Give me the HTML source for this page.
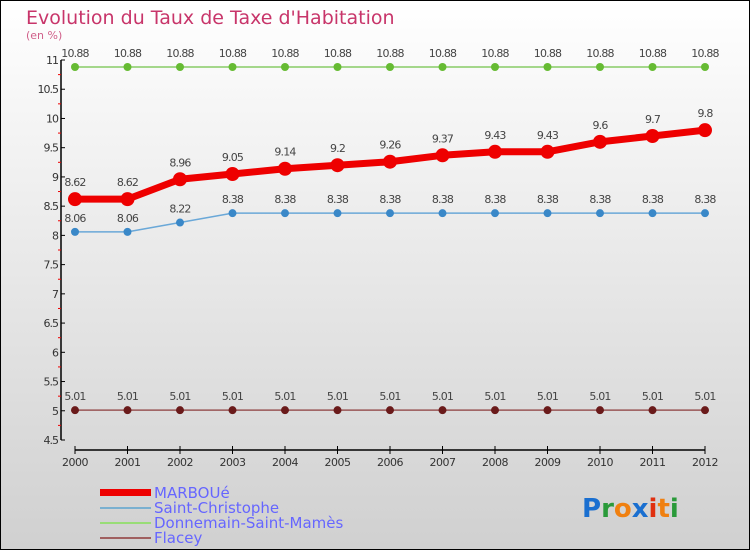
<!DOCTYPE html>
<html><head><meta charset="utf-8"><style>
body{margin:0}
#c{width:750px;height:550px;position:relative;font-family:"DejaVu Sans","Liberation Sans",sans-serif}
</style></head><body>
<div id="c">
<svg id="s" width="750" height="550" xmlns="http://www.w3.org/2000/svg">
<defs><linearGradient id="bg" x1="0" y1="0" x2="0" y2="1"><stop offset="0" stop-color="#ffffff"/><stop offset="1" stop-color="#d0d0d0"/></linearGradient></defs>
<rect x="0.5" y="0.5" width="749" height="549" fill="url(#bg)" stroke="#000"/>
<text x="26" y="24" font-size="19" fill="#c8356a">Evolution du Taux de Taxe d'Habitation</text>
<text x="26" y="39" font-size="11" fill="#d0608a">(en %)</text>
<g id="axes"></g><g id="series"></g>
<g>
<rect x="100" y="489" width="51" height="7" fill="#e00"/>
<text x="154" y="498" font-size="15" fill="#6666ff">MARBOUé</text>
<rect x="100" y="507" width="51" height="2" fill="#7ab0d0"/>
<text x="154" y="513" font-size="15" fill="#6666ff">Saint-Christophe</text>
<rect x="100" y="522" width="51" height="2" fill="#99dd77"/>
<text x="154" y="528" font-size="15" fill="#6666ff">Donnemain-Saint-Mamès</text>
<rect x="100" y="537" width="51" height="2" fill="#a06060"/>
<text x="154" y="543" font-size="15" fill="#6666ff">Flacey</text>
</g>
<g font-size="26" font-weight="bold" font-family="DejaVu Sans,sans-serif">
<text x="582" y="517"><tspan fill="#1a6fd0">P</tspan><tspan fill="#2a9a3a">r</tspan><tspan fill="#f08010">o</tspan><tspan fill="#1a6fd0">x</tspan><tspan fill="#e03010">i</tspan><tspan fill="#f08010">t</tspan><tspan fill="#2a9a3a">i</tspan></text>
</g>
</svg>
</div>
<script>
const years=[2000,2001,2002,2003,2004,2005,2006,2007,2008,2009,2010,2011,2012];
const marboue=[8.62,8.62,8.96,9.05,9.14,9.2,9.26,9.37,9.43,9.43,9.6,9.7,9.8];
const saintChristophe=[8.06,8.06,8.22,8.38,8.38,8.38,8.38,8.38,8.38,8.38,8.38,8.38,8.38];
const donnemain=[10.88,10.88,10.88,10.88,10.88,10.88,10.88,10.88,10.88,10.88,10.88,10.88,10.88];
const flacey=[5.01,5.01,5.01,5.01,5.01,5.01,5.01,5.01,5.01,5.01,5.01,5.01,5.01];
const yTicks=[4.5,5,5.5,6,6.5,7,7.5,8,8.5,9,9.5,10,10.5,11];
const yMin=4.5,yMax=11;
const NS="http://www.w3.org/2000/svg";
function X(i){return 75+i*(630/(years.length-1));}
function Y(v){return 440-(v-yMin)*(380/(yMax-yMin));}
function mk(t,a,p){const e=document.createElementNS(NS,t);for(const k in a)e.setAttribute(k,a[k]);p.appendChild(e);return e;}
const ax=document.getElementById('axes');
const yl=mk('line',{x1:61,y1:Y(yMax),x2:61,y2:Y(yMin),stroke:'#000','stroke-width':1.5},ax);


yTicks.forEach((t,i)=>{
 mk('line',{x1:61,y1:Y(t),x2:65,y2:Y(t),stroke:'#000'},ax);
 if(i<yTicks.length-1)mk('line',{x1:58,y1:Y(t+0.25),x2:61,y2:Y(t+0.25),stroke:'#e00'},ax);
 const tx=mk('text',{x:58,y:Y(t)+4,'font-size':11,fill:'#333','text-anchor':'end','letter-spacing':'-1'},ax);
 tx.textContent=String(t);
 
 
});
const xl=mk('line',{x1:X(0),y1:450,x2:X(years.length-1),y2:450,stroke:'#000','stroke-width':1.5},ax);


years.forEach((y,i)=>{
 mk('line',{x1:X(i),y1:446,x2:X(i),y2:454,stroke:'#000'},ax);
 const tx=mk('text',{x:X(i),y:466,'font-size':11,fill:'#333','text-anchor':'middle','letter-spacing':'-0.5'},ax);
 tx.textContent=y;
 
 
});
const sg=document.getElementById('series');
function draw(name,vals,col,lw,r,dot){
 const g=mk('g',{},sg);
 
 
 mk('polyline',{points:vals.map((v,i)=>X(i)+','+Y(v)).join(' '),fill:'none',stroke:col,'stroke-width':lw,'stroke-linejoin':'round'},g);
 vals.forEach((v,i)=>{
  const c=mk('circle',{cx:X(i),cy:Y(v),r:r,fill:dot},g);
  
  
  const t=mk('text',{x:X(i),y:Y(v)-r-6,'font-size':11,fill:'#444','text-anchor':'middle','letter-spacing':'-0.8'},g);
  t.textContent=String(v);
  
  
 });
}
draw('donnemain',donnemain,'#88cc66',1.5,4,'#66bb33');
draw('flacey',flacey,'#995555',1.5,4,'#6a1a1a');
draw('saint-christophe',saintChristophe,'#6aa8d8',1.5,4,'#3a88c8');
draw('marboue',marboue,'#ee0000',7,7,'#ee0000');
</script>
</body></html>
